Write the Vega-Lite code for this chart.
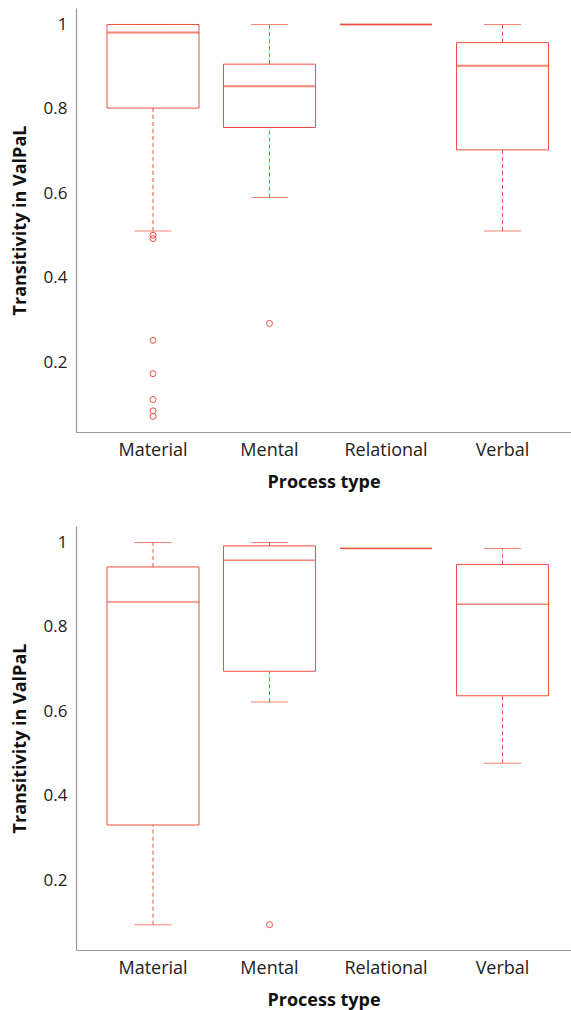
{
  "$schema": "https://vega.github.io/schema/vega-lite/v6.json",
  "bounds": "flush",
  "spacing": 94,
  "padding": {"left": 11, "top": 8, "right": 0, "bottom": 30},
  "config": {
    "font": "Open Sans",
    "view": {"stroke": null},
    "axis": {
      "grid": false,
      "ticks": false,
      "domainColor": "#9a9a9a",
      "domainWidth": 1.2,
      "labelFont": "Open Sans",
      "labelFontSize": 17,
      "labelColor": "#222222",
      "titleFont": "Open Sans",
      "titleFontSize": 18,
      "titleFontWeight": "bold",
      "titleColor": "#111111"
    }
  },
  "datasets": {
    "boxA": [
      {"type": "Material", "lower": 0.511, "q1": 0.802, "median": 0.981, "q3": 1.0, "upper": 1.0},
      {"type": "Mental", "lower": 0.590, "q1": 0.756, "median": 0.854, "q3": 0.906, "upper": 1.0},
      {"type": "Relational", "lower": 1.0, "q1": 1.0, "median": 1.0, "q3": 1.0, "upper": 1.0},
      {"type": "Verbal", "lower": 0.511, "q1": 0.703, "median": 0.902, "q3": 0.957, "upper": 1.0}
    ],
    "outA": [
      {"type": "Material", "value": 0.501},
      {"type": "Material", "value": 0.493},
      {"type": "Material", "value": 0.252},
      {"type": "Material", "value": 0.173},
      {"type": "Material", "value": 0.112},
      {"type": "Material", "value": 0.085},
      {"type": "Material", "value": 0.072},
      {"type": "Mental", "value": 0.292}
    ],
    "boxB": [
      {"type": "Material", "lower": 0.095, "q1": 0.331, "median": 0.859, "q3": 0.942, "upper": 1.0},
      {"type": "Mental", "lower": 0.622, "q1": 0.695, "median": 0.958, "q3": 0.992, "upper": 1.0},
      {"type": "Relational", "lower": 0.986, "q1": 0.986, "median": 0.986, "q3": 0.986, "upper": 0.986},
      {"type": "Verbal", "lower": 0.477, "q1": 0.637, "median": 0.854, "q3": 0.948, "upper": 0.986}
    ],
    "outB": [
      {"type": "Mental", "value": 0.095}
    ]
  },
  "vconcat": [
    {
      "width": 495,
      "height": 424,
      "encoding": {
        "x": {
          "field": "type", "type": "nominal",
          "scale": {"domain": ["Material", "Mental", "Relational", "Verbal"], "paddingInner": 0, "paddingOuter": 0.1245, "align": 0.647, "round": false},
          "axis": {"labelAngle": 0, "labelPadding": 9, "labelFontSize": 18, "title": "Process type", "titlePadding": 14}
        }
      },
      "layer": [
        {
          "data": {"name": "boxA"},
          "mark": {"type": "rule", "color": "#F0503C", "strokeWidth": 1, "strokeDash": [4, 3]},
          "encoding": {
            "y": {"field": "lower", "type": "quantitative", "scale": {"domain": [0.035, 1.039], "nice": false, "zero": false},
              "axis": {"values": [0.2, 0.4, 0.6, 0.8, 1], "format": "~g", "labelPadding": 9, "title": "Transitivity in ValPaL", "titlePadding": 14}},
            "y2": {"field": "q1"}
          }
        },
        {
          "data": {"name": "boxA"},
          "mark": {"type": "rule", "color": "#F0503C", "strokeWidth": 1, "strokeDash": [4, 3]},
          "encoding": {"y": {"field": "q3", "type": "quantitative"}, "y2": {"field": "upper"}}
        },
        {
          "data": {"name": "boxA"},
          "mark": {"type": "tick", "color": "#F0503C", "size": 37, "thickness": 1},
          "encoding": {"y": {"field": "lower", "type": "quantitative"}}
        },
        {
          "data": {"name": "boxA"},
          "mark": {"type": "tick", "color": "#F0503C", "size": 37, "thickness": 1},
          "encoding": {"y": {"field": "upper", "type": "quantitative"}}
        },
        {
          "data": {"name": "boxA"},
          "mark": {"type": "bar", "fill": "transparent", "stroke": "#F0503C", "strokeWidth": 1, "size": 92},
          "encoding": {"y": {"field": "q1", "type": "quantitative"}, "y2": {"field": "q3"}}
        },
        {
          "data": {"name": "boxA"},
          "mark": {"type": "tick", "color": "#F0503C", "size": 92, "thickness": 2},
          "encoding": {"y": {"field": "median", "type": "quantitative"}}
        },
        {
          "data": {"name": "outA"},
          "mark": {"type": "point", "shape": "circle", "filled": false, "color": "#F0503C", "size": 36, "strokeWidth": 1, "opacity": 1},
          "encoding": {"y": {"field": "value", "type": "quantitative"}}
        },
        {
          "mark": {"type": "rule", "color": "#9a9a9a", "strokeWidth": 1.2},
          "encoding": {"y": {"datum": 1.039}}
        }
      ]
    },
    {
      "width": 495,
      "height": 424,
      "encoding": {
        "x": {
          "field": "type", "type": "nominal",
          "scale": {"domain": ["Material", "Mental", "Relational", "Verbal"], "paddingInner": 0, "paddingOuter": 0.1245, "align": 0.647, "round": false},
          "axis": {"labelAngle": 0, "labelPadding": 9, "labelFontSize": 18, "title": "Process type", "titlePadding": 14}
        }
      },
      "layer": [
        {
          "data": {"name": "boxB"},
          "mark": {"type": "rule", "color": "#F0503C", "strokeWidth": 1, "strokeDash": [4, 3]},
          "encoding": {
            "y": {"field": "lower", "type": "quantitative", "scale": {"domain": [0.035, 1.039], "nice": false, "zero": false},
              "axis": {"values": [0.2, 0.4, 0.6, 0.8, 1], "format": "~g", "labelPadding": 9, "title": "Transitivity in ValPaL", "titlePadding": 14}},
            "y2": {"field": "q1"}
          }
        },
        {
          "data": {"name": "boxB"},
          "mark": {"type": "rule", "color": "#F0503C", "strokeWidth": 1, "strokeDash": [4, 3]},
          "encoding": {"y": {"field": "q3", "type": "quantitative"}, "y2": {"field": "upper"}}
        },
        {
          "data": {"name": "boxB"},
          "mark": {"type": "tick", "color": "#F0503C", "size": 37, "thickness": 1},
          "encoding": {"y": {"field": "lower", "type": "quantitative"}}
        },
        {
          "data": {"name": "boxB"},
          "mark": {"type": "tick", "color": "#F0503C", "size": 37, "thickness": 1},
          "encoding": {"y": {"field": "upper", "type": "quantitative"}}
        },
        {
          "data": {"name": "boxB"},
          "mark": {"type": "bar", "fill": "transparent", "stroke": "#F0503C", "strokeWidth": 1, "size": 92},
          "encoding": {"y": {"field": "q1", "type": "quantitative"}, "y2": {"field": "q3"}}
        },
        {
          "data": {"name": "boxB"},
          "mark": {"type": "tick", "color": "#F0503C", "size": 92, "thickness": 1.5},
          "encoding": {"y": {"field": "median", "type": "quantitative"}}
        },
        {
          "data": {"name": "outB"},
          "mark": {"type": "point", "shape": "circle", "filled": false, "color": "#F0503C", "size": 36, "strokeWidth": 1, "opacity": 1},
          "encoding": {"y": {"field": "value", "type": "quantitative"}}
        },
        {
          "mark": {"type": "rule", "color": "#9a9a9a", "strokeWidth": 1.2},
          "encoding": {"y": {"datum": 1.039}}
        }
      ]
    }
  ]
}
